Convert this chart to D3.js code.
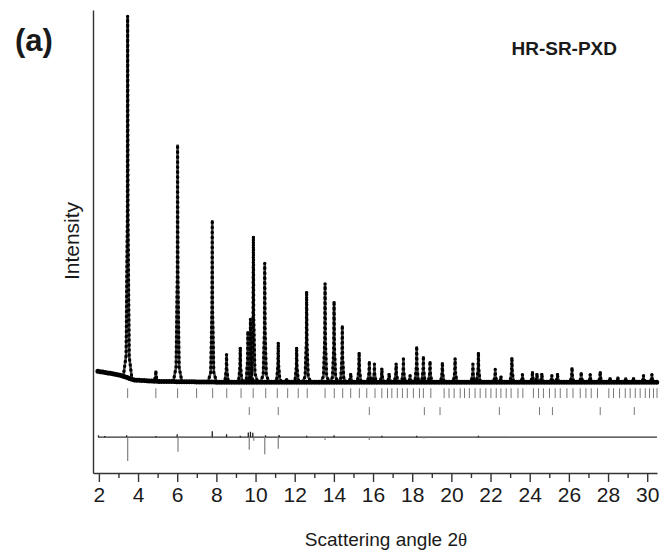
<!DOCTYPE html>
<html><head><meta charset="utf-8">
<script src="https://cdn.jsdelivr.net/npm/d3@7"></script>
<style>
body{margin:0;background:#fff}
text{font-family:"Liberation Sans",Arial,Helvetica,sans-serif;fill:#1a1a1a}
</style>
</head><body>
<svg id="chart" width="667" height="557"></svg>
<script>
// ---- data (2θ in degrees, intensity in % of strongest peak) ----
const peakPos = [3.47, 4.91, 6.02, 7.79, 8.52, 9.22, 9.61, 9.74, 9.89, 10.47, 11.16, 11.59, 12.10, 12.61,
  13.55, 14.01, 14.43, 14.86, 15.29, 15.81, 16.07, 16.45, 16.82, 17.18, 17.55, 17.89, 18.23, 18.57,
  18.91, 19.54, 20.19, 21.10, 21.38, 22.24, 22.53, 23.09, 23.63, 24.14, 24.37, 24.62, 25.13, 25.42,
  26.16, 26.63, 27.09, 27.60, 28.10, 28.50, 28.90, 29.30, 29.81, 30.24];
const peakInt = [100, 3.0, 65.5, 44.8, 7.7, 9.7, 14.1, 17.5, 40.3, 32.9, 11.0, 1.1, 9.7, 25.1,
  27.3, 22.4, 15.7, 2.5, 8.3, 5.8, 5.0, 3.9, 2.5, 5.2, 6.4, 1.9, 9.9, 7.2,
  5.8, 5.5, 6.6, 5.0, 8.3, 3.6, 1.7, 6.9, 2.2, 3.0, 2.5, 2.5, 1.9, 2.5,
  4.1, 2.8, 2.2, 3.0, 1.4, 1.5, 1.3, 1.4, 1.9, 2.2];
const bgPos = [1.95, 2.5, 3.1, 3.8, 5.0, 8.0, 30.5];
const bgInt = [3.0, 2.5, 1.9, 0.6, 0.2, 0.0, 0.0];
const phase1Ticks = [3.47, 4.91, 6.02, 6.99, 7.81, 8.53, 9.26, 9.88, 10.52, 11.11, 11.64, 12.18, 12.64,
  13.55, 14.02, 14.45, 14.86, 15.30, 15.68, 16.10, 16.45, 16.74, 16.96, 17.24, 17.50, 17.75, 18.06,
  18.37, 18.57, 18.95, 19.63, 19.88, 20.14, 20.45, 20.67, 20.92, 21.21, 21.47, 21.76, 22.02, 22.29,
  22.53, 22.80, 23.05, 23.40, 23.65, 24.19, 24.45, 24.70, 25.01, 25.30, 25.56, 25.90, 26.21, 26.58,
  26.87, 27.14, 27.46, 28.04, 28.28, 28.59, 28.88, 29.13, 29.39, 29.64, 29.90, 30.12, 30.32, 30.50];
const phase2Ticks = [9.68, 11.16, 15.81, 18.62, 19.42, 22.45, 24.50, 25.16, 27.60, 29.34];
const diffPos = [1.98, 2.3, 3.42, 3.47, 4.91, 6.00, 6.04, 7.79, 7.84, 8.52, 9.22, 9.63, 9.68, 9.74, 9.86,
  9.91, 10.47, 10.51, 11.16, 11.20, 12.61, 13.55, 14.01, 15.81, 16.45, 18.23, 18.60, 21.38, 23.09];
const diffVal = [0.5, 0.3, 0.5, -6.6, 0.3, 0.8, -4.0, 1.6, -0.3, 0.8, 0.4, 1.3, -3.5, 1.5, 1.2,
  -1.0, -4.7, 0.5, -3.2, 0.6, 0.4, -0.8, 0.5, -0.8, 0.4, 0.4, -0.4, 0.4, -0.3];
const majorTicks = [2, 4, 6, 8, 10, 12, 14, 16, 18, 20, 22, 24, 26, 28, 30];
const minorTicks = [3, 5, 7, 9, 11, 13, 15, 17, 19, 21, 23, 25, 27, 29];
const xTitle = "Scattering angle 2";
const yTitle = "Intensity";
const panelLabel = "(a)";
const methodLabel = "HR-SR-PXD";

// ---- layout ----
const svg = d3.select("#chart");
const x = d3.scaleLinear([1.7, 30.5], [93, 657]);
const y = d3.scaleLinear([-25.1, 102.8], [473, 10]);
const diffOffset = -15.2;
const bg = d3.scaleLinear(bgPos, bgInt).clamp(true);
const line = d3.line().x(d => x(d[0])).y(d => y(d[1]));
const shape = [[-0.22, 0], [-0.08, 0.06], [-0.015, 0.45], [0, 1], [0.015, 0.45], [0.08, 0.06], [0.22, 0]];

const bgPts = bgPos.map((p, i) => [p, bgInt[i]]);
const peaksPts = peakPos.map((p, i) => shape.map(([dx, f]) => [p + dx, bg(p + dx) + f * peakInt[i]]));

const g = svg.append("g");
// calculated profile
g.append("path").attr("d", line(bgPts)).attr("fill", "none").attr("stroke", "#222").attr("stroke-width", 2);
g.selectAll("path.calc").data(peaksPts).join("path").attr("class", "calc")
  .attr("d", line).attr("fill", "none").attr("stroke", "#444").attr("stroke-width", 2.6);
// observed points
g.append("path").attr("d", line(bgPts)).attr("fill", "none").attr("stroke", "#000")
  .attr("stroke-width", 5).attr("stroke-linecap", "round").attr("stroke-dasharray", "0 2.5");
g.selectAll("path.obs").data(peaksPts).join("path").attr("class", "obs")
  .attr("d", line).attr("fill", "none").attr("stroke", "#000")
  .attr("stroke-width", 3.4).attr("stroke-linecap", "round").attr("stroke-dasharray", "0 5");

// reflection ticks
g.selectAll("line.t1").data(phase1Ticks).join("line").attr("class", "t1")
  .attr("x1", d => x(d)).attr("x2", d => x(d)).attr("y1", y(-1.7)).attr("y2", y(-4.4))
  .attr("stroke", "#777").attr("stroke-width", 1);
g.selectAll("line.t2").data(phase2Ticks).join("line").attr("class", "t2")
  .attr("x1", d => x(d)).attr("x2", d => x(d)).attr("y1", y(-6.9)).attr("y2", y(-9.1))
  .attr("stroke", "#777").attr("stroke-width", 1);

// difference curve
g.append("path").attr("d", line([[1.95, diffOffset], [30.5, diffOffset]]))
  .attr("fill", "none").attr("stroke", "#333").attr("stroke-width", 1.4);
g.selectAll("line.diff").data(diffPos.map((p, i) => [p, diffVal[i]])).join("line").attr("class", "diff")
  .attr("x1", d => x(d[0])).attr("x2", d => x(d[0]))
  .attr("y1", y(diffOffset)).attr("y2", d => y(diffOffset + d[1]))
  .attr("stroke", d => d[1] < 0 ? "#888" : "#222").attr("stroke-width", 1.3);

// axes
const axG = svg.append("g").attr("transform", `translate(0,${y(-25.1)})`);
axG.call(d3.axisBottom(x).tickValues(majorTicks).tickSize(9).tickSizeOuter(0).tickPadding(5).tickFormat(d3.format("d")));
axG.selectAll(".tick text").attr("font-size", 21).attr("font-family", "Liberation Sans, Arial, sans-serif").attr("fill", "#1a1a1a");
axG.select(".domain").attr("stroke", "#333").attr("stroke-width", 1.4);
axG.selectAll(".tick line").attr("stroke", "#333").attr("stroke-width", 1.4);
const minG = svg.append("g").attr("transform", `translate(0,${y(-25.1)})`);
minG.call(d3.axisBottom(x).tickValues(minorTicks).tickSize(5).tickSizeOuter(0).tickFormat(""));
minG.select(".domain").remove();
minG.selectAll(".tick line").attr("stroke", "#333").attr("stroke-width", 1.4);
const ayG = svg.append("g").attr("transform", `translate(${x(1.7)},0)`);
ayG.call(d3.axisLeft(y).tickValues([]).tickSizeOuter(0));
ayG.select(".domain").attr("stroke", "#333").attr("stroke-width", 1.4);

// texts
const xt = svg.append("text").attr("x", 386).attr("y", 546).attr("text-anchor", "middle").attr("font-size", 19);
xt.append("tspan").text(xTitle);
xt.append("tspan").attr("font-family", "Liberation Serif, serif").text("θ");
svg.append("text").attr("transform", "translate(79,241) rotate(-90)").attr("text-anchor", "middle")
  .attr("font-size", 21).text(yTitle);
svg.append("text").attr("x", 15).attr("y", 51).attr("font-size", 31).attr("font-weight", "bold").text(panelLabel);
svg.append("text").attr("x", 617).attr("y", 55).attr("text-anchor", "end").attr("font-size", 19)
  .attr("font-weight", "bold").text(methodLabel);
</script>
</body></html>
